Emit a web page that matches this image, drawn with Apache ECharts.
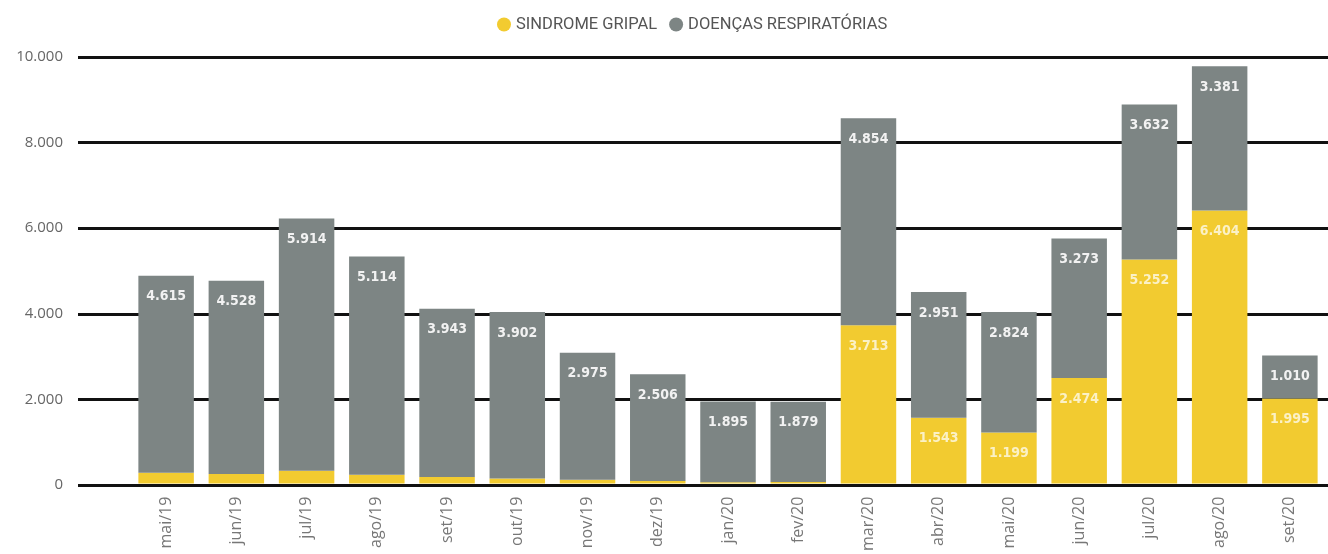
<!DOCTYPE html>
<html>
<head>
<meta charset="utf-8">
<script src="https://cdn.jsdelivr.net/npm/echarts@6/dist/echarts.min.js"></script>
<style>
  html, body { margin: 0; padding: 0; background: #fff; }
  #main { width: 1328px; height: 554px; }
</style>
</head>
<body>
<div id="main"></div>
<script>
var months = ['mai/19', 'jun/19', 'jul/19', 'ago/19', 'set/19', 'out/19', 'nov/19', 'dez/19', 'jan/20', 'fev/20',
  'mar/20', 'abr/20', 'mai/20', 'jun/20', 'jul/20', 'ago/20', 'set/20'];
// sindrome gripal (early values)
var gripal = [257, 227, 300, 210, 155, 120, 90, 60, 30, 40, 3713, 1543, 1199, 2474, 5252, 6404, 1995];
var respiratorias = [4615, 4528, 5914, 5114, 3943, 3902, 2975, 2506, 1895, 1879, 4854, 2951, 2824, 3273, 3632, 3381, 1010];
var yTicks = [0, 2000, 4000, 6000, 8000, 10000];

var condensed = '"DejaVu Sans Condensed", "Liberation Sans Narrow", "Roboto", sans-serif';

function fmt(v) {
  return String(v).replace(/\B(?=(\d{3})+(?!\d))/g, '.');
}

var chart = echarts.init(document.getElementById('main'));

var gripalData = gripal.map(function (v) {
  return { value: v, label: { show: v >= 1000 } };
});

var option = {
  animation: false,
  color: ['#f2cb30', '#7d8584'],
  legend: {
    top: 11,
    left: 492,
    icon: 'circle',
    itemWidth: 14,
    itemHeight: 14,
    itemGap: 12,
    textStyle: { color: '#555', fontSize: 16.5, fontFamily: '"Roboto", sans-serif' },
    data: ['SINDROME GRIPAL', 'DOENÇAS RESPIRATÓRIAS']
  },
  grid: [
    { left: 78, right: 0, top: 57, bottom: 69 },
    { left: 131, right: 3, top: 57, bottom: 69 }
  ],
  xAxis: [{
    type: 'category',
    gridIndex: 1,
    data: months,
    axisLine: { show: false },
    axisTick: { show: false },
    axisLabel: {
      rotate: 90,
      margin: 13,
      color: '#777',
      fontSize: 16,
      fontFamily: '"Open Sans", sans-serif'
    }
  }, {
    type: 'category',
    gridIndex: 0,
    data: months,
    show: false
  }],
  yAxis: [{
    type: 'value',
    gridIndex: 0,
    min: yTicks[0],
    max: yTicks[yTicks.length - 1],
    interval: 2000,
    axisLine: { show: false },
    axisTick: { show: false },
    axisLabel: {
      margin: 15,
      color: '#666',
      fontSize: 15,
      fontFamily: '"Open Sans", sans-serif',
      formatter: function (v) { return fmt(v); }
    },
    splitLine: { lineStyle: { color: '#111', width: 3 } }
  }, {
    type: 'value',
    gridIndex: 1,
    min: yTicks[0],
    max: yTicks[yTicks.length - 1],
    interval: 2000,
    show: false,
    splitLine: { show: false }
  }],
  series: [{
    name: 'SINDROME GRIPAL',
    type: 'bar',
    stack: 'total',
    xAxisIndex: 0,
    yAxisIndex: 1,
    barCategoryGap: '21%',
    data: gripalData,
    label: {
      position: 'insideTop',
      distance: 14,
      color: '#fbf1c6',
      fontWeight: 'bold',
      fontSize: 14,
      fontFamily: condensed,
      formatter: function (p) { return fmt(p.value); }
    }
  }, {
    name: 'DOENÇAS RESPIRATÓRIAS',
    type: 'bar',
    stack: 'total',
    xAxisIndex: 0,
    yAxisIndex: 1,
    barCategoryGap: '21%',
    data: respiratorias,
    label: {
      show: true,
      position: 'insideTop',
      distance: 14,
      color: '#f2f2f2',
      fontWeight: 'bold',
      fontSize: 14,
      fontFamily: condensed,
      formatter: function (p) { return fmt(p.value); }
    }
  }]
};

chart.setOption(option);
</script>
</body>
</html>
